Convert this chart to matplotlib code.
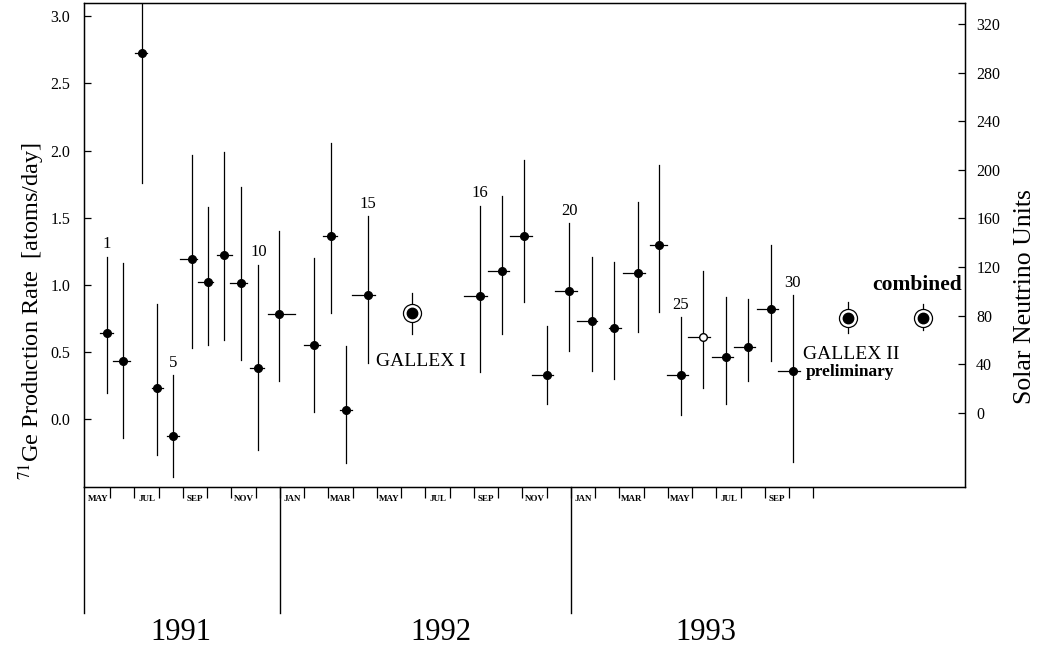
import matplotlib.pyplot as plt

plt.rcParams['font.family'] = ['Liberation Serif', 'DejaVu Serif']
plt.rcParams['mathtext.fontset'] = 'stix'

# time axis in months counted from 1 Jan 1991
run_mid = [4.85, 5.54, 6.30, 6.92, 7.60, 8.36, 9.04, 9.70, 10.39, 11.11, 11.96, 13.41, 14.10, 14.72, 15.64,
           20.25, 21.17, 22.07, 23.00, 23.93, 24.85, 25.77, 26.75, 27.63, 28.52, 29.46, 30.39, 31.29, 32.24, 33.14]
run_start = [4.58, 5.13, 6.02, 6.71, 7.33, 7.88, 8.63, 9.39, 9.94, 10.76, 11.52, 12.99, 13.79, 14.47, 14.96,
             19.59, 20.56, 21.48, 22.38, 23.34, 24.23, 25.58, 26.13, 27.26, 27.95, 28.84, 29.80, 30.73, 31.66, 32.55]
run_end = [5.10, 5.81, 6.53, 7.19, 7.85, 8.59, 9.25, 10.01, 10.65, 11.34, 12.62, 13.65, 14.34, 14.96, 15.92,
           20.52, 21.46, 22.38, 23.27, 24.23, 25.06, 26.05, 27.05, 27.95, 28.84, 29.73, 30.67, 31.59, 32.55, 33.44]
rate = [0.64, 0.43, 2.73, 0.23, -0.13, 1.19, 1.02, 1.22, 1.01, 0.38, 0.78, 0.55, 1.36, 0.07, 0.925,
        0.92, 1.10, 1.36, 0.33, 0.95, 0.73, 0.68, 1.09, 1.30, 0.33, 0.61, 0.465, 0.535, 0.82, 0.36]
rate_hi = [1.21, 1.16, 3.30, 0.86, 0.33, 1.97, 1.58, 1.99, 1.73, 1.15, 1.40, 1.20, 2.06, 0.54, 1.51,
           1.59, 1.66, 1.93, 0.69, 1.46, 1.21, 1.17, 1.62, 1.89, 0.76, 1.10, 0.91, 0.895, 1.30, 0.925]
rate_lo = [0.19, -0.14, 1.76, -0.27, -0.43, 0.53, 0.55, 0.59, 0.44, -0.23, 0.28, 0.05, 0.79, -0.33, 0.42,
           0.35, 0.63, 0.875, 0.11, 0.51, 0.36, 0.30, 0.65, 0.80, 0.03, 0.23, 0.11, 0.28, 0.43, -0.32]
labelled_runs = [1, 5, 10, 15, 16, 20, 25, 30]

# averaged results: GALLEX I, GALLEX II, combined
avg_x = [17.43, 35.41, 38.53]
avg_rate = [0.79, 0.756, 0.756]
avg_hi = [0.94, 0.87, 0.86]
avg_lo = [0.63, 0.64, 0.66]

month_names = ['MAY', 'JUL', 'SEP', 'NOV', 'JAN', 'MAR', 'MAY', 'JUL', 'SEP', 'NOV', 'JAN', 'MAR', 'MAY', 'JUL', 'SEP']
month_first = 4
month_last = 34
years = ['1991', '1992', '1993']
year_mid = [7.92, 18.65, 29.55]
year_starts = [12, 24]

snu_ticks = [0, 40, 80, 120, 160, 200, 240, 280, 320]

fig = plt.figure(figsize=(10.37, 6.5), dpi=100)
ax = fig.add_axes([0.081, 0.2508, 0.8496, 0.7446])

# individual runs
for i in range(len(run_mid)):
    x, y = run_mid[i], rate[i]
    ax.plot([x, x], [rate_lo[i], rate_hi[i]], color='black', lw=0.9)
    ax.plot([run_start[i], run_end[i]], [y, y], color='black', lw=0.9)
    face = 'white' if i == 25 else 'black'
    ax.plot(x, y, marker='o', ms=5.5, mfc=face, mec='black', mew=1.0, color='black')
    if (i + 1) in labelled_runs:
        ax.annotate(str(i + 1), (x, rate_hi[i]), xytext=(0, 3), textcoords='offset points',
                    ha='center', va='bottom', fontsize=12)

# averages drawn as ringed dots
for x, y, lo, hi in zip(avg_x, avg_rate, avg_lo, avg_hi):
    ax.plot([x, x], [lo, hi], color='black', lw=0.9)
    ax.plot(x, y, marker='o', ms=13, mfc='white', mec='black', mew=0.9)
    ax.plot(x, y, marker='o', ms=7.5, color='black')

ax.text(15.96, 0.43, 'GALLEX I', fontsize=14, ha='left', va='center')
ax.text(33.55, 0.48, 'GALLEX II', fontsize=14, ha='left', va='center')
ax.text(33.7, 0.35, 'preliminary', fontsize=12.5, fontweight='bold', ha='left', va='center')
ax.text(40.12, 1.0, 'combined', fontsize=15.5, fontweight='bold', ha='right', va='center')

ax.set_xlim(3.92, 40.25)
ax.set_ylim(-0.507, 3.10)
ax.set_yticks([0.0, 0.5, 1.0, 1.5, 2.0, 2.5, 3.0])
ax.set_yticklabels(['0.0', '0.5', '1.0', '1.5', '2.0', '2.5', '3.0'], fontsize=11.5)
ax.tick_params(axis='y', direction='in', length=5, width=0.9, pad=10)

# month strip: boundary ticks, names centred in their month
ax.set_xticks(range(month_first + 1, month_last + 1))
ax.set_xticklabels([])
ax.tick_params(axis='x', which='major', direction='out', length=8, width=0.9)
ax.set_xticks([month_first + 0.5 + 2 * k for k in range(len(month_names))], minor=True)
ax.set_xticklabels(month_names, minor=True, fontsize=6.5, fontweight='bold')
ax.tick_params(axis='x', which='minor', length=0, pad=6)

# year separators below the axis
trans = ax.get_xaxis_transform()
ax.plot([0, 0], [0, -0.26], transform=ax.transAxes, color='black', lw=1.0, clip_on=False)
for xs in year_starts:
    ax.plot([xs, xs], [0, -0.26], transform=trans, color='black', lw=1.0, clip_on=False)
for name, xm in zip(years, year_mid):
    ax.text(xm, -0.30, name, transform=trans, ha='center', va='center', fontsize=22)

for s in ax.spines.values():
    s.set_linewidth(1.0)

# right axis in solar neutrino units
ax2 = ax.twinx()
ax2.set_ylim(-60.9, 337.3)
ax2.set_yticks(snu_ticks)
ax2.set_yticklabels([str(v) for v in snu_ticks], fontsize=11.5)
ax2.tick_params(axis='y', direction='in', length=5, width=0.9, pad=8)

fig.text(0.031, 0.522, r'$^{71}$Ge Production Rate  [atoms/day]', rotation=90,
         ha='center', va='center', fontsize=17.5)
fig.text(0.988, 0.543, 'Solar Neutrino Units', rotation=90,
         ha='center', va='center', fontsize=18.5)

fig.savefig('out.png', dpi=100)
